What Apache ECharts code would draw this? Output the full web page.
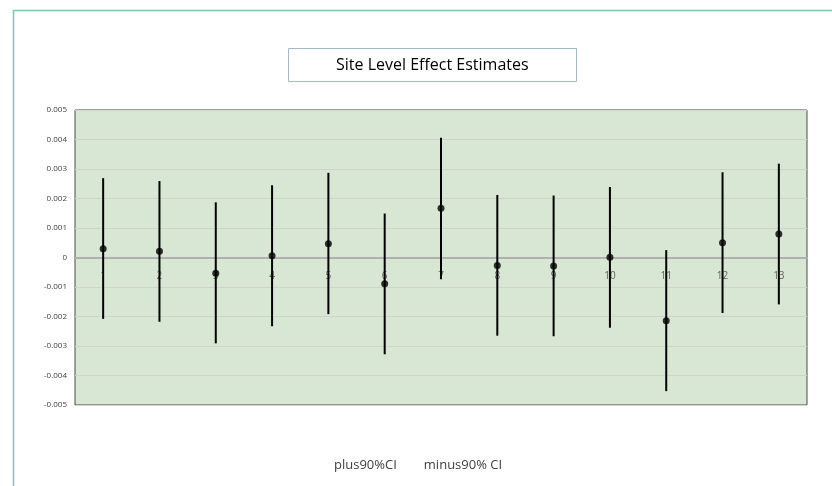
<!DOCTYPE html>
<html><head><meta charset="utf-8">
<script src="https://cdn.jsdelivr.net/npm/echarts@6/dist/echarts.min.js"></script>
<style>html,body{margin:0;padding:0;background:#fff}#c{width:832px;height:486px}</style>
</head><body><div id="c"></div>
<script>
var sites = ['1','2','3','4','5','6','7','8','9','10','11','12','13'];
var estimate = [0.00030, 0.00021, -0.00053, 0.00006, 0.00047, -0.00089, 0.00167, -0.00027, -0.00029, 0.00001, -0.00214, 0.00050, 0.00080];
var upper90 = [0.00269, 0.00259, 0.00187, 0.00245, 0.00287, 0.00149, 0.00406, 0.00212, 0.00210, 0.00239, 0.00025, 0.00289, 0.00318];
var lower90 = [-0.00208, -0.00218, -0.00291, -0.00233, -0.00192, -0.00328, -0.00074, -0.00265, -0.00267, -0.00238, -0.00453, -0.00188, -0.00159];
var yTicks = [-0.005, -0.004, -0.003, -0.002, -0.001, 0, 0.001, 0.002, 0.003, 0.004, 0.005];

function segRender(params, api) {
  var a = api.coord([api.value(0), api.value(1)]);
  var b = api.coord([api.value(0), api.value(2)]);
  return {type: 'line', shape: {x1: a[0], y1: a[1], x2: b[0], y2: b[1]},
          style: {stroke: '#000', lineWidth: 2}};
}
var plusData = sites.map(function (s, i) { return [i, estimate[i], upper90[i]]; });
var minusData = sites.map(function (s, i) { return [i, estimate[i], lower90[i]]; });
var labelData = sites.map(function (s, i) { return [i, 0]; });

var chart = echarts.init(document.getElementById('c'));
chart.setOption({
  animation: false,
  textStyle: {fontFamily: 'Open Sans'},
  graphic: [{type: 'rect', left: 11, top: 8, shape: {width: 900, height: 600},
             style: {fill: 'none', stroke: '#7cc4bc', lineWidth: 1.5}, silent: true}],
  title: {
    text: 'Site Level Effect Estimates', left: 288, top: 48,
    padding: [8, 48, 8, 48], borderColor: '#a3b9d3', borderWidth: 1, backgroundColor: '#fff',
    textStyle: {fontSize: 16, fontWeight: 'normal', color: '#000', fontFamily: 'Open Sans', lineHeight: 18}
  },
  legend: {
    data: ['plus90%CI', 'minus90% CI'], left: 324, top: 454, itemWidth: 0, itemHeight: 0, itemGap: 22,
    icon: 'rect', textStyle: {fontSize: 13, color: '#404040', fontFamily: 'Open Sans'}
  },
  grid: {left: 75, right: 25, top: 110, bottom: 81, show: true,
         backgroundColor: '#d7e7d3', borderColor: '#4a4a4a', borderWidth: 1},
  xAxis: {
    type: 'category', data: sites, boundaryGap: true,
    axisLine: {onZero: true, lineStyle: {color: '#b0b0b0', width: 2}},
    axisTick: {show: false},
    axisLabel: {show: false},
    splitLine: {show: false}
  },
  yAxis: {
    type: 'value', min: yTicks[0], max: yTicks[yTicks.length - 1], interval: 0.001,
    axisLine: {show: false}, axisTick: {show: false},
    axisLabel: {fontSize: 8, color: '#404040', margin: 8,
      formatter: function (v) { var r = Math.round(v * 1000) / 1000; return r === 0 ? '0' : r.toFixed(3); }},
    splitLine: {lineStyle: {color: '#cdd5cb', width: 1}}
  },
  series: [
    {name: 'siteLabels', type: 'scatter', data: labelData, symbolSize: 0, silent: true, z: 1,
     label: {show: true, position: 'bottom', distance: 14, fontSize: 10, color: '#404040',
       formatter: function (p) { return sites[p.dataIndex]; }}},
    {name: 'plus90%CI', type: 'custom', renderItem: segRender, data: plusData,
     encode: {x: 0, y: [1, 2]}, itemStyle: {color: '#000'}, z: 2},
    {name: 'minus90% CI', type: 'custom', renderItem: segRender, data: minusData,
     encode: {x: 0, y: [1, 2]}, itemStyle: {color: '#000'}, z: 2},
    {name: 'estimate', type: 'scatter', data: estimate, symbolSize: 7,
     itemStyle: {color: '#000'}, z: 3}
  ]
});
</script></body></html>
